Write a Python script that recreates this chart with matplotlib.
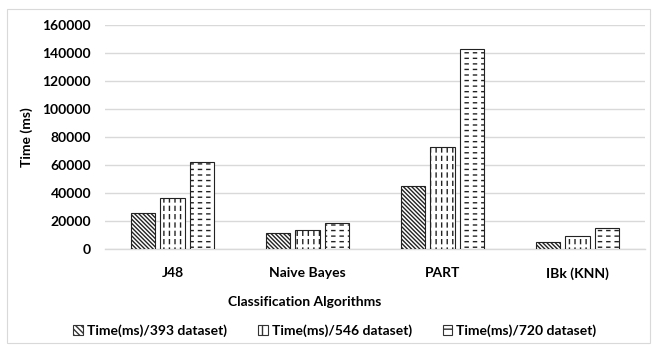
import numpy as np
import matplotlib
matplotlib.use("Agg")
import matplotlib.pyplot as plt
from matplotlib.patches import Patch, Rectangle

plt.rcParams['font.family'] = ['Lato', 'DejaVu Sans']
plt.rcParams['font.weight'] = 'bold'

algorithms = ['J48', 'Naive Bayes', 'PART', 'IBk (KNN)']
series_names = ['Time(ms)/393 dataset)', 'Time(ms)/546 dataset)', 'Time(ms)/720 dataset)']
t393 = [25700, 11400, 45200, 5200]
t546 = [36400, 13800, 73100, 9300]
t720 = [62100, 18600, 143100, 15200]


def cut_hatch(xs, ys, w, hatch, lw):
    # white hatch on top of a black one, to break lines into dashes
    with plt.rc_context({'hatch.linewidth': lw}):
        bars = ax.bar(xs, ys, w, fill=False, edgecolor='white', hatch=hatch, linewidth=0, zorder=3.1)
        for b in bars:
            if hasattr(b, 'set_hatch_linewidth'):
                b.set_hatch_linewidth(lw)


fig = plt.figure(figsize=(6.54, 3.47), dpi=100)
fig.patches.append(Rectangle((7 / 654, 4 / 347), 643 / 654, 334 / 347, transform=fig.transFigure,
                             fill=False, edgecolor='#d9d9d9', linewidth=0.8))
ax = fig.add_axes([105 / 654, 1 - 249 / 347, 540 / 654, 224 / 347])

x = np.arange(len(algorithms))
w = 0.178
step = 0.222
edge_lw = 0.8

# 393: diagonal hatch
ax.bar(x - step, t393, w, color='white', edgecolor='#222222', hatch='\\' * 8, linewidth=edge_lw, zorder=3)

# 546: vertical dashes
ax.bar(x, t546, w, color='white', edgecolor='#222222', hatch='|||', linewidth=0, zorder=3)
cut_hatch(x, t546, w, '--', 2.2)
ax.bar(x, t546, w, fill=False, edgecolor='#222222', linewidth=edge_lw, zorder=3.2)

# 720: horizontal dashes
ax.bar(x + step, t720, w, color='white', edgecolor='#222222', hatch='---', linewidth=0, zorder=3)
cut_hatch(x + step, t720, w, '||', 2.8)
ax.bar(x + step, t720, w, fill=False, edgecolor='#222222', linewidth=edge_lw, zorder=3.2)

ax.set_xlim(-0.5, 3.5)
ax.set_ylim(0, 160000)
ax.set_yticks(np.arange(0, 160001, 20000))
ax.set_xticks(x)
ax.set_xticklabels(algorithms)
ax.tick_params(axis='both', length=0, labelsize=10)
ax.tick_params(axis='y', pad=10)
ax.tick_params(axis='x', pad=13)
ax.grid(axis='y', color='#d9d9d9', linewidth=1.0, zorder=0)
for s in ['top', 'right', 'left']:
    ax.spines[s].set_visible(False)
ax.spines['bottom'].set_color('#d9d9d9')
ax.spines['bottom'].set_linewidth(1.0)

ax.set_ylabel('Time (ms)', fontsize=10, fontweight='bold')
ax.yaxis.set_label_coords(-0.133, 0.5)
fig.text(305 / 654, 1 - 302 / 347, 'Classification Algorithms', ha='center', va='center',
         fontsize=10, fontweight='bold')

handles = [Patch(facecolor='white', edgecolor='#333333', hatch='\\' * 6, linewidth=0.8),
           Patch(facecolor='white', edgecolor='#333333', hatch='||', linewidth=0.8),
           Patch(facecolor='white', edgecolor='#333333', hatch='--', linewidth=0.8)]
fig.legend(handles, series_names, loc='center', bbox_to_anchor=(335 / 654, 1 - 331 / 347),
           ncol=3, frameon=False, fontsize=10, handlelength=0.7, handleheight=0.7,
           handletextpad=0.3, columnspacing=2.2)

fig.savefig('out.png', dpi=100)
